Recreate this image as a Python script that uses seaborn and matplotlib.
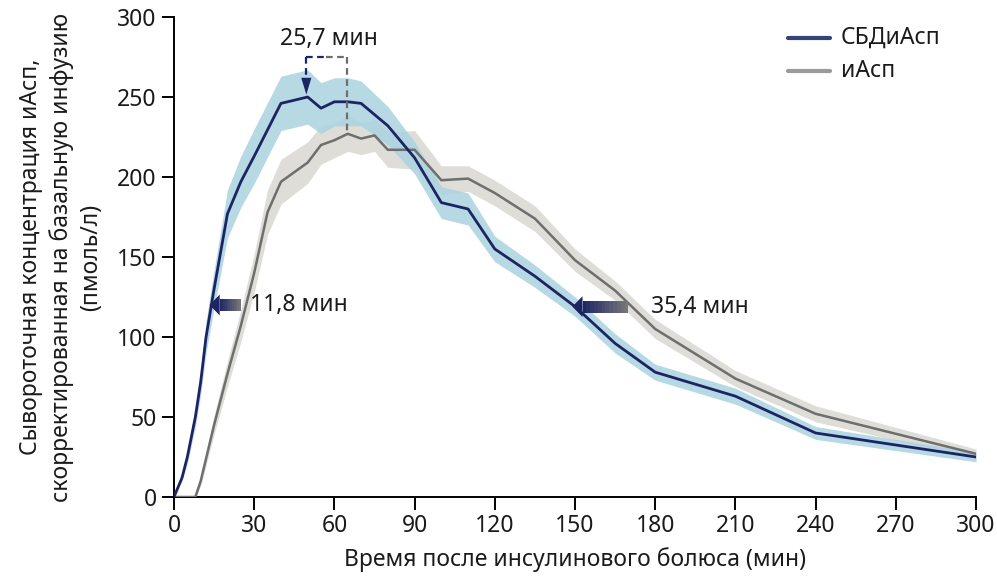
import numpy as np
import pandas as pd
import matplotlib
matplotlib.use("Agg")
import matplotlib.pyplot as plt
import seaborn as sns
from matplotlib.patches import Polygon, Rectangle
from matplotlib.colors import to_rgb

# --- данные ---
t_faster = [0, 3, 5, 8, 10, 12, 15, 20, 25, 30, 40, 50, 55, 60, 65, 70, 80, 90,
            100, 110, 120, 135, 150, 165, 180, 210, 240, 300]
y_faster = [0, 12, 25, 50, 72, 100, 130, 177, 197, 213, 246, 250, 243, 247, 247,
            246, 232, 212, 184, 180, 155, 138, 119, 96, 78, 63, 40, 25]
e_faster = [0, 2, 4, 6, 8, 10, 12, 15, 16, 17, 17, 17, 16, 15, 15, 14, 12, 10,
            10, 10, 8, 7, 6, 6, 5, 5, 4, 3]

t_asp = [0, 8, 10, 15, 20, 25, 30, 35, 40, 50, 55, 60, 65, 70, 75, 80, 90,
         100, 110, 120, 135, 150, 165, 180, 210, 240, 300]
y_asp = [0, 0, 10, 45, 77, 107, 140, 178, 197, 209, 220, 223, 227, 224, 226,
         217, 217, 198, 199, 190, 174, 148, 129, 105, 74, 52, 27]
e_asp = [0, 0, 3, 6, 8, 10, 12, 14, 14, 13, 12, 11, 11, 10, 10, 11, 12,
         9, 8, 8, 8, 7, 6, 6, 5, 5, 3]

series_names = ["СБДиАсп", "иАсп"]
x_ticks = [0, 30, 60, 90, 120, 150, 180, 210, 240, 270, 300]
y_ticks = [0, 50, 100, 150, 200, 250, 300]

navy = "#1c2463"
grey = "#6e6e6e"
band_blue = "#a9d3e0"
band_grey = "#d9d7d1"
txt = "#1a1a1a"
fs = 16.5

sns.set_style("ticks")
plt.rcParams["font.family"] = ["Noto Sans", "DejaVu Sans"]

df = pd.concat([
    pd.DataFrame({"t": t_faster, "y": y_faster, "e": e_faster, "s": series_names[0]}),
    pd.DataFrame({"t": t_asp, "y": y_asp, "e": e_asp, "s": series_names[1]}),
])

fig, ax = plt.subplots(figsize=(9.97, 5.8), dpi=100)
fig.subplots_adjust(left=0.1745, right=0.979, top=0.9707, bottom=0.1431)

# полосы разброса
for name, col in zip(series_names[::-1], [band_grey, band_blue]):
    d = df[df.s == name]
    ax.fill_between(d.t, d.y - d.e, d.y + d.e, color=col, lw=0, alpha=0.85, zorder=1)

sns.lineplot(data=df[df.s == series_names[1]], x="t", y="y", color=grey, lw=1.8,
             ax=ax, zorder=3, legend=False)
sns.lineplot(data=df[df.s == series_names[0]], x="t", y="y", color=navy, lw=2.0,
             ax=ax, zorder=4, legend=False)


def grad_arrow(tip, tail, yc):
    # стрелка влево: наконечник тёмно-синий, хвост серый
    head_len = 3.8
    body_h = 3.8
    head_h = 6.5
    n = 12
    c0, c1 = np.array(to_rgb(navy)), np.array(to_rgb("#7a7a7a"))
    xs = np.linspace(tip + head_len, tail, n + 1)
    for i in range(n):
        c = c0 + (c1 - c0) * (i + 0.5) / n
        ax.add_patch(Rectangle((xs[i], yc - body_h), xs[i + 1] - xs[i], 2 * body_h,
                               color=c, lw=0, zorder=6))
    ax.add_patch(Polygon([[tip, yc], [tip + head_len, yc + head_h],
                          [tip + head_len, yc - head_h]], color=navy, lw=0, zorder=6))


grad_arrow(13.3, 25, 120)
ax.text(28.5, 120, "11,8 мин", fontsize=fs, va="center", ha="left", color=txt)
grad_arrow(149, 170, 119)
ax.text(178.5, 119, "35,4 мин", fontsize=fs, va="center", ha="left", color=txt)

# скобка времени максимума
ax.plot([49.5, 57], [275, 275], ls=(0, (3, 2)), color=navy, lw=1.6, zorder=5)
ax.plot([57, 64.8], [275, 275], ls=(0, (3, 2)), color=grey, lw=1.6, zorder=5)
ax.plot([64.8, 64.8], [275, 228], ls=(0, (3, 2)), color=grey, lw=1.6, zorder=5)
ax.plot([49.5, 49.5], [275, 262], ls=(0, (3, 2)), color=navy, lw=1.6, zorder=5)
ax.add_patch(Polygon([[49.5, 251.5], [47.6, 262], [51.4, 262]], color=navy, lw=0, zorder=6))
ax.text(58, 286, "25,7 мин", fontsize=fs, ha="center", va="center", color=txt)

# легенда
ax.plot([229.5, 245.5], [287, 287], color="#34437a", lw=3, zorder=6)
ax.plot([229.5, 245.5], [266.5, 266.5], color="#9a9a9a", lw=3, zorder=6)
ax.text(249.5, 287, series_names[0], fontsize=fs, va="center", color=txt)
ax.text(249.5, 266.5, series_names[1], fontsize=fs, va="center", color=txt)

ax.set_xlim(0, 300)
ax.set_ylim(0, 300)
ax.set_xticks(x_ticks)
ax.set_yticks(y_ticks)
ax.tick_params(axis="both", labelsize=fs, length=9, width=1.4, color="black",
               labelcolor=txt)
for sp in ["left", "bottom"]:
    ax.spines[sp].set_linewidth(1.4)
    ax.spines[sp].set_color("black")
sns.despine(ax=ax)

ax.set_xlabel("Время после инсулинового болюса (мин)", fontsize=fs, labelpad=6,
              color=txt)
ax.set_ylabel("Сывороточная концентрация иАсп,\nскорректированная на базальную инфузию\n(пмоль/л)",
              fontsize=fs, labelpad=10, linespacing=1.3, color=txt)

fig.savefig("out.png", dpi=100)
